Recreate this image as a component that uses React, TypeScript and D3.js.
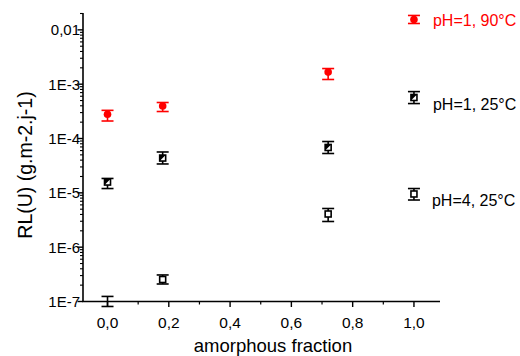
import React from "react";
import * as d3 from "d3";

const xValues = [0, 0.18, 0.72, 1.0];

const redVal = [2.8e-4, 3.96e-4, 1.67e-3, 0.0155];
const redLo = [2.1e-4, 3.14e-4, 1.22e-3, 0.0131];
const redHi = [3.3e-4, 4.6e-4, 1.94e-3, 0.0184];

const blkVal = [1.58e-5, 4.37e-5, 6.84e-5, 5.69e-4];
const blkLo = [1.2e-5, 3.4e-5, 5.3e-5, 4.4e-4];
const blkHi = [1.84e-5, 5.65e-5, 8.8e-5, 7.3e-4];

const openVal = [9.8e-8, 2.54e-7, 4.08e-6, 9.53e-6];
const openLo = [8.1e-8, 2.1e-7, 2.97e-6, 7.38e-6];
const openHi = [1.24e-7, 3.08e-7, 5.15e-6, 1.2e-5];

const seriesLabels = ["pH=1, 90°C", "pH=1, 25°C", "pH=4, 25°C"];
const xTickValues = [0, 0.2, 0.4, 0.6, 0.8, 1.0];
const xTickLabels = ["0,0", "0,2", "0,4", "0,6", "0,8", "1,0"];
const yTickValues = [1e-7, 1e-6, 1e-5, 1e-4, 1e-3, 1e-2];
const yTickLabels = ["1E-7", "1E-6", "1E-5", "1E-4", "1E-3", "0,01"];
const xTitle = "amorphous fraction";
const yTitle = "RL(U) (g.m-2.j-1)";

const FONT = "'Liberation Sans', Arial, sans-serif";
const Y_MIN = 1e-7;

export default function App() {
  const x = d3.scaleLinear().domain([-0.08, 1.085]).range([83, 440]);
  const y = d3.scaleLog().domain([Y_MIN, 0.02]).range([301.5, 13.5]);

  const xMinor = d3.range(1, 11, 2).map((d) => d / 10);
  const yMinor: number[] = [];
  for (let e = -7; e <= -2; e++) {
    for (let m = 2; m <= 9; m++) {
      const v = m * Math.pow(10, e);
      if (v <= 0.02) yMinor.push(v);
    }
  }

  const errBar = (i: number, lo: number[], hi: number[], color: string) => (
    <g key={"e" + i} stroke={color} strokeWidth={1.6}>
      <line x1={x(xValues[i])} x2={x(xValues[i])} y1={y(lo[i])} y2={y(hi[i])} />
      <line x1={x(xValues[i]) - 6} x2={x(xValues[i]) + 6} y1={y(lo[i])} y2={y(lo[i])} />
      <line x1={x(xValues[i]) - 6} x2={x(xValues[i]) + 6} y1={y(hi[i])} y2={y(hi[i])} />
    </g>
  );

  return (
    <svg width={520} height={356} style={{ position: "absolute", left: 0, top: 0 }} fontFamily={FONT}>
      <rect width={520} height={356} fill="white" />
      {/* axes */}
      <line x1={83} x2={83} y1={13} y2={302} stroke="black" strokeWidth={1.6} />
      <line x1={82.2} x2={440} y1={301.5} y2={301.5} stroke="black" strokeWidth={1.6} />
      {xTickValues.map((v, i) => (
        <g key={"xt" + i}>
          <line x1={x(v)} x2={x(v)} y1={301.5} y2={307} stroke="black" strokeWidth={1.4} />
          <text x={x(v)} y={328} textAnchor="middle" fontSize={15.5}>
            {xTickLabels[i]}
          </text>
        </g>
      ))}
      {xMinor.map((v, i) => (
        <line key={"xm" + i} x1={x(v)} x2={x(v)} y1={301.5} y2={304.5} stroke="black" strokeWidth={1.2} />
      ))}
      {yMinor.map((v, i) => (
        <line key={"ym" + i} x1={80} x2={83} y1={y(v)} y2={y(v)} stroke="black" strokeWidth={1.1} />
      ))}
      {yTickValues.map((v, i) => (
        <g key={"yt" + i}>
          <line x1={77.5} x2={83} y1={y(v)} y2={y(v)} stroke="black" strokeWidth={1.4} />
          <text x={80} y={y(v) + 5.5} textAnchor="end" fontSize={15}>
            {yTickLabels[i]}
          </text>
        </g>
      ))}
      <text x={273} y={352} textAnchor="middle" fontSize={18.5}>
        {xTitle}
      </text>
      <text transform={`translate(32,165) rotate(-90)`} textAnchor="middle" fontSize={19.5}>
        {yTitle}
      </text>

      {/* open squares pH=4 */}
      {xValues.map((_, i) => errBar(i, openLo, openHi, "black"))}
      {xValues.map((_, i) =>
        openVal[i] >= Y_MIN ? (
          <rect key={"os" + i} x={x(xValues[i]) - 3} y={y(openVal[i]) - 3} width={6} height={6} fill="white" stroke="black" strokeWidth={1.6} />
        ) : null
      )}
      {/* half squares pH=1 25 */}
      {xValues.map((_, i) => errBar(i, blkLo, blkHi, "black"))}
      {xValues.map((_, i) => (
        <g key={"bs" + i}>
          <rect x={x(xValues[i]) - 3} y={y(blkVal[i]) - 3} width={6} height={6} fill="white" stroke="black" strokeWidth={1.6} />
          <path d={`M${x(xValues[i]) - 3},${y(blkVal[i]) + 3} L${x(xValues[i]) + 3},${y(blkVal[i]) - 3} L${x(xValues[i]) - 3},${y(blkVal[i]) - 3} Z`} fill="black" />
        </g>
      ))}
      {/* red circles */}
      {xValues.map((_, i) => errBar(i, redLo, redHi, "#ff0000"))}
      {xValues.map((_, i) => (
        <circle key={"rc" + i} cx={x(xValues[i])} cy={y(redVal[i])} r={3.8} fill="#ff0000" />
      ))}

      {/* labels */}
      <text x={x(1.0) + 19} y={y(redVal[3]) + 6} fontSize={16} fill="#ff0000">
        {seriesLabels[0]}
      </text>
      <text x={x(1.0) + 19} y={y(blkVal[3]) + 13} fontSize={16}>
        {seriesLabels[1]}
      </text>
      <text x={x(1.0) + 18} y={y(openVal[3]) + 12} fontSize={16}>
        {seriesLabels[2]}
      </text>
    </svg>
  );
}
